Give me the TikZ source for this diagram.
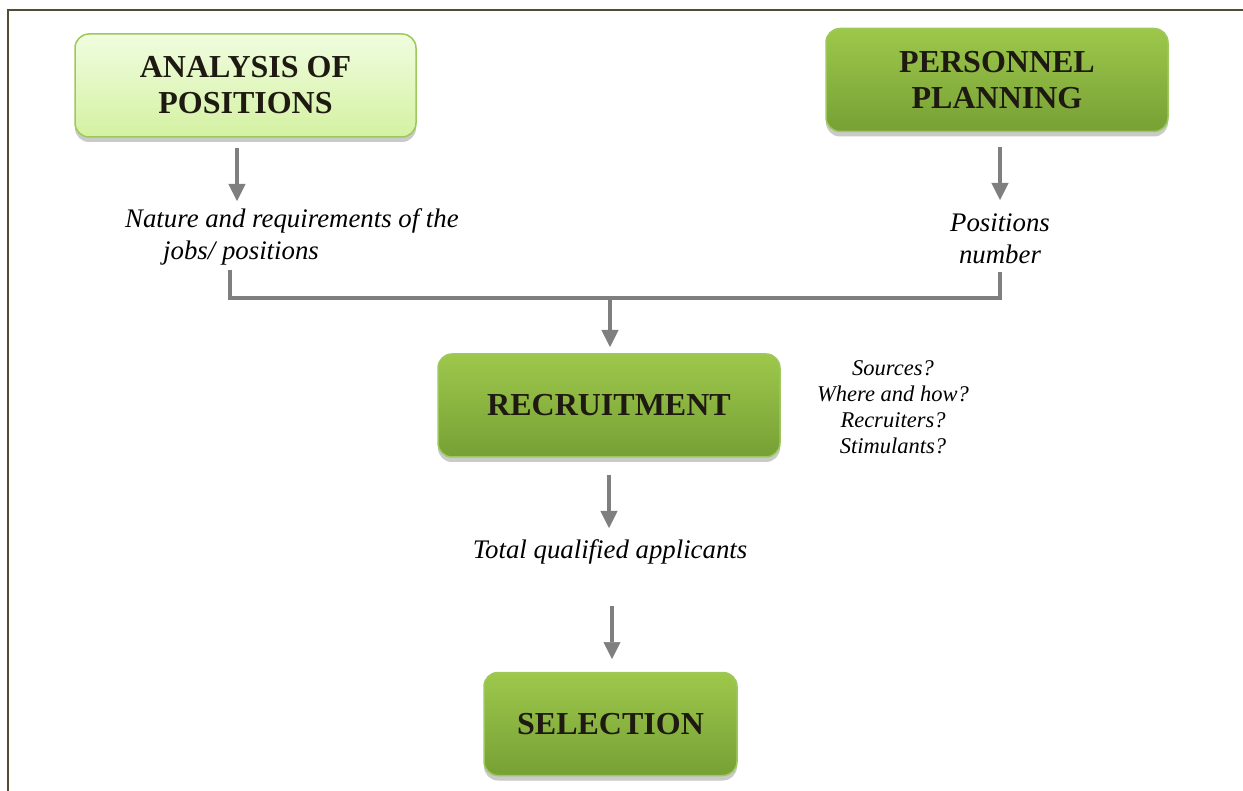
\documentclass[tikz,border=0pt]{standalone}
\usepackage{fontspec}
\setmainfont{Liberation Serif}
\usetikzlibrary{positioning,shadows,arrows.meta}

\definecolor{lightTop}{HTML}{F0FDDF}
\definecolor{lightBot}{HTML}{D4F1A2}
\definecolor{darkTop}{HTML}{9DC84B}
\definecolor{darkBot}{HTML}{77A035}
\definecolor{boxline}{HTML}{9CC85C}
\definecolor{arrowgray}{HTML}{7F7F7F}
\definecolor{textdark}{HTML}{1E1A12}
\definecolor{framecol}{HTML}{504C36}

\begin{document}
\begin{tikzpicture}[x=1pt,y=-1pt]
    \tikzstyle{every node}=[inner sep=0]
    \tikzstyle{box}=[rectangle,rounded corners=14,draw=boxline,line width=1.5,minimum height=103,
        font=\fontsize{32}{36}\selectfont\bfseries,text=textdark,align=center,
        drop shadow={shadow xshift=0pt,shadow yshift=-5pt,opacity=0.35,fill=black!60}]
    \tikzstyle{lightbox}=[box,top color=lightTop,bottom color=lightBot]
    \tikzstyle{darkbox}=[box,top color=darkTop,bottom color=darkBot]
    \tikzstyle{note}=[font=\itshape\fontsize{26.8}{32}\selectfont,align=center]
    \tikzstyle{smallnote}=[font=\itshape\fontsize{22.5}{26}\selectfont,align=center]
    \tikzstyle{flow}=[draw=arrowgray,line width=4,-{Triangle[width=17pt,length=17pt,line width=0.5pt]}]
    \tikzstyle{link}=[draw=arrowgray,line width=4]
    {
        \useasboundingbox (0,0) rectangle (1243,791);
        \draw[framecol,line width=2] (1243,10) -- (8,10) -- (8,791);

        \node[lightbox,minimum width=341] (analysis) at (245.5,85.5) {ANALYSIS OF\\POSITIONS};
        \node[darkbox,minimum width=342] (planning) at (997,80) {PERSONNEL\\PLANNING};
        \node[darkbox,minimum width=342] (recruit) at (609,405.5) {RECRUITMENT};
        \node[darkbox,minimum width=253] (select) at (610.5,724) {SELECTION};

        \node[note,align=left,anchor=west] (needs) at (125,237) {Nature and requirements of the\\\hspace*{38pt}jobs/ positions};
        \node[note] (number) at (1000,239) {Positions\\number};
        \node[smallnote] (channels) at (893,407) {Sources?\\Where and how?\\Recruiters?\\Stimulants?};
        \node[note] (pool) at (610,552) {Total qualified applicants};

        \coordinate (a1) at (237,148);
        \coordinate (a2) at (237,201);
        \coordinate (p1) at (1000,147);
        \coordinate (p2) at (1000,200);
        \coordinate (j1) at (230,270);
        \coordinate (j2) at (230,298);
        \coordinate (j3) at (1000,298);
        \coordinate (j4) at (1000,272);
        \coordinate (m1) at (610,298);
        \coordinate (m2) at (610,347);
        \coordinate (r1) at (609,475);
        \coordinate (r2) at (609,528);
        \coordinate (s1) at (612,606);
        \coordinate (s2) at (612,659);

        \draw[flow] (a1) -- (a2);
        \draw[flow] (p1) -- (p2);
        \draw[flow] (m1) -- (m2);
        \draw[flow] (r1) -- (r2);
        \draw[flow] (s1) -- (s2);
        \draw[link] (j1) -- (j2) -- (j3) -- (j4);
    }
\end{tikzpicture}
\end{document}
